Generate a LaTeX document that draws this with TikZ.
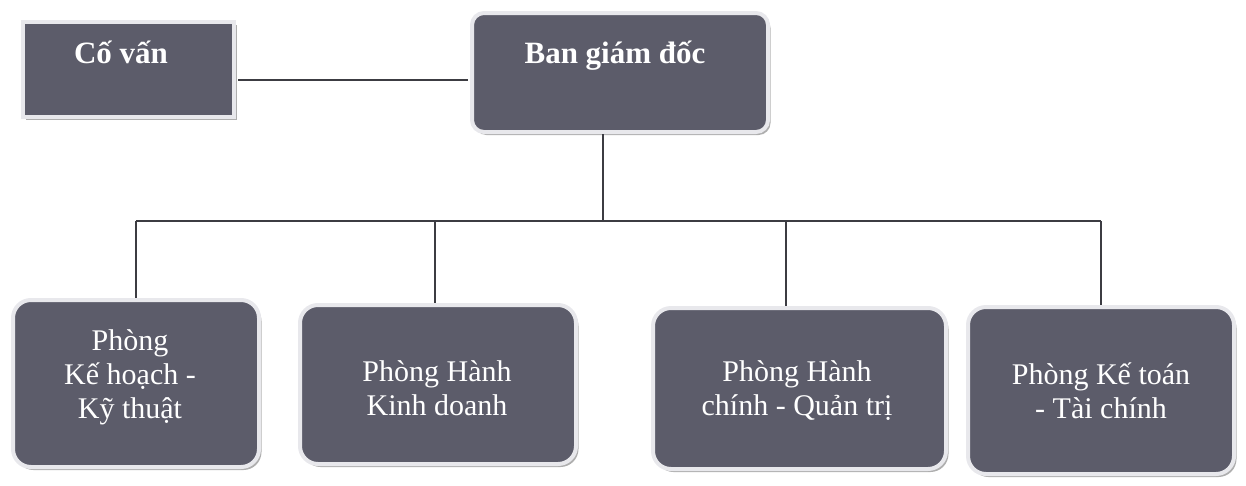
\documentclass[tikz,border=0pt]{standalone}
\usepackage{fontspec}
\setmainfont{Liberation Serif}
\usetikzlibrary{shadows,calc}
\definecolor{boxfill}{RGB}{92,92,106}
\definecolor{boxrim}{RGB}{232,232,236}
\definecolor{linecol}{RGB}{60,60,66}
\tikzset{
  orgbox/.style={rectangle, draw=boxrim, line width=4pt, fill=boxfill,
    inner sep=0pt, anchor=north west,
    drop shadow={shadow xshift=2.5pt, shadow yshift=-3pt, fill=black!45, opacity=0.7}},
  topbox/.style={orgbox},
  subbox/.style={orgbox, rounded corners=18pt},
  toptext/.style={text=white, font=\fontsize{31}{34}\selectfont\bfseries, anchor=base, inner sep=0pt},
  subtext/.style={text=white, font=\fontsize{30}{34}\selectfont, align=center, inner sep=0pt},
  conn/.style={draw=linecol, line width=1.4pt}
}
\begin{document}
\begin{tikzpicture}[x=1pt,y=-1pt]
\useasboundingbox (0,0) rectangle (1246,485);
% boxes
\node[topbox, minimum width=211pt, minimum height=95pt] (cv) at (21,20) {};
\node[topbox, rounded corners=12pt, minimum width=296pt, minimum height=119pt] (bgd) at (470,11) {};
\node[subbox, minimum width=246pt, minimum height=167pt] (p1) at (11,298) {};
\node[subbox, minimum width=276pt, minimum height=159pt] (p2) at (298,303) {};
\node[subbox, minimum width=293pt, minimum height=161pt] (p3) at (651,306) {};
\node[subbox, minimum width=266pt, minimum height=167pt] (p4) at (966,305) {};
% texts
\node[toptext] (tcv) at (121,63) {Cố vấn};
\node[toptext] (tbgd) at (615,63) {Ban giám đốc};
\node[subtext] (t1) at (130,377) {Phòng\\Kế hoạch -\\Kỹ thuật};
\node[subtext] (t2) at (437,388) {Phòng Hành\\Kinh doanh};
\node[subtext] (t3) at (797,391) {Phòng Hành\\chính - Quản trị};
\node[subtext] (t4) at (1101,391) {Phòng Kế toán\\- Tài chính};
% connectors
\coordinate (bus) at (603,221);
\coordinate (busL) at (136,221);
\coordinate (busR) at (1101,221);
\coordinate (j2) at (435,221);
\coordinate (j3) at (786,221);
\draw[conn] ($(cv.east)+(2,10.5)$) -- ($(bgd.west)+(-2,7.5)$);
\draw[conn] (bgd.south -| bus) -- (bus);
\draw[conn] (busL) -- (busR);
\draw[conn] (busL) -- (p1.north -| busL);
\draw[conn] (j2) -- (p2.north -| j2);
\draw[conn] (j3) -- (p3.north -| j3);
\draw[conn] (busR) -- (p4.north -| busR);
\end{tikzpicture}
\end{document}
